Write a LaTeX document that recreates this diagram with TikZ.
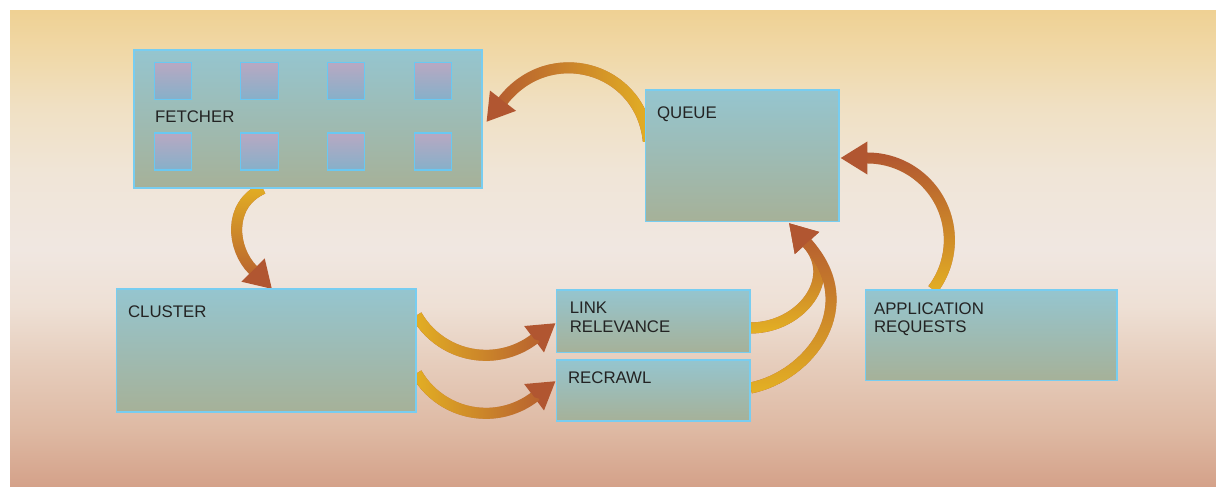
\documentclass[tikz,border=0pt]{standalone}
\usepackage{fontspec}
\setmainfont{Liberation Sans}
\usetikzlibrary{arrows.meta,fadings}
\definecolor{bgA}{RGB}{212,161,137}
\definecolor{bgB}{RGB}{222,185,163}
\definecolor{bgC}{RGB}{230,205,188}
\definecolor{bgD}{RGB}{238,224,213}
\definecolor{bgE}{RGB}{240,231,225}
\definecolor{bgF}{RGB}{240,229,215}
\definecolor{bgG}{RGB}{240,224,195}
\definecolor{bgH}{RGB}{240,217,170}
\definecolor{bgI}{RGB}{239,209,148}
\definecolor{gold}{RGB}{228,177,36}
\definecolor{rust}{RGB}{177,86,49}
\definecolor{boxT}{RGB}{149,197,207}
\definecolor{boxB}{RGB}{166,177,152}
\definecolor{boxLine}{RGB}{120,205,240}
\definecolor{sqT}{RGB}{184,168,194}
\definecolor{sqB}{RGB}{134,176,201}
\definecolor{sqLine}{RGB}{105,200,242}
\definecolor{txt}{RGB}{35,35,35}
\pgfdeclareverticalshading{bgshade}{100bp}{color(0bp)=(bgA); color(25bp)=(bgA); color(31bp)=(bgB); color(38bp)=(bgC); color(44bp)=(bgD); color(50bp)=(bgE); color(58bp)=(bgF); color(65bp)=(bgG); color(70bp)=(bgH); color(75bp)=(bgI); color(100bp)=(bgI)}
\tikzfading[name=fadeR, left color=transparent!100, right color=transparent!0]
\tikzfading[name=fadeL, left color=transparent!0, right color=transparent!100]
\tikzfading[name=fadeT, top color=transparent!0, bottom color=transparent!100]
\tikzfading[name=fadeB, top color=transparent!100, bottom color=transparent!0]
\pgfdeclarelayer{back}
\pgfsetlayers{back,main}
\newcommand\garrow[2]{\draw[conn] #2; \draw[glow=#1] #2;}
\newcommand\twolines[3]{\vtop{\baselineskip=#3\hbox{#1}\hbox{#2}}}
\begin{document}
\begin{tikzpicture}[x=1pt,y=1pt,
  box/.style={draw=boxLine, line width=1.3pt, top color=boxT, bottom color=boxB, inner sep=0pt},
  sq/.style={draw=sqLine, line width=1.3pt, top color=sqT, bottom color=sqB, inner sep=0pt, minimum width=37.5pt, minimum height=37pt},
  lbl/.style={text=txt, inner sep=0pt, anchor=base west, font=\fontsize{16.8pt}{19pt}\selectfont},
  conn/.style={draw=rust, line width=11pt, -{Triangle[width=31pt,length=27pt]}},
  glow/.style={draw=gold, line width=11pt, shorten >=27pt, path fading=#1}]
\useasboundingbox (0,0) rectangle (1216,487);
% boxes
\node[box, minimum width=348pt, minimum height=138pt] (fetcher) at (308,368) {};
\node[box, minimum width=193.3pt, minimum height=131.7pt] (queue) at (742.35,331.15) {};
\node[box, minimum width=299.3pt, minimum height=123pt] (cluster) at (266.35,136.5) {};
\node[box, minimum width=193.3pt, minimum height=62.7pt] (link) at (653.35,165.65) {};
\node[box, minimum width=193.3pt, minimum height=61pt] (recrawl) at (653.35,96.5) {};
\node[box, minimum width=251.3pt, minimum height=90.7pt] (app) at (991.35,151.65) {};
% fetcher squares
\foreach \i/\x in {1/173,2/259.5,3/346,4/433}{
  \node[sq] (sa\i) at (\x,406) {};
  \node[sq] (sb\i) at (\x,335.5) {};
}
% labels
\node[lbl] (tfetcher) at ([xshift=21.5pt,yshift=-73pt]fetcher.north west) {FETCHER};
\node[lbl] (tqueue) at ([xshift=11.8pt,yshift=-29pt]queue.north west) {QUEUE};
\node[lbl] (tcluster) at ([xshift=11.8pt,yshift=-29pt]cluster.north west) {CLUSTER};
\node[lbl] (tlink) at ([xshift=13.5pt,yshift=-24pt]link.north west) {\twolines{LINK}{RELEVANCE}{19.3pt}};
\node[lbl] (trecrawl) at ([xshift=11.8pt,yshift=-24pt]recrawl.north west) {RECRAWL};
\node[lbl] (tapp) at ([xshift=8.8pt,yshift=-25pt]app.north west) {\twolines{APPLICATION}{REQUESTS}{17.7pt}};
% connector end points
\coordinate (b1) at (503,386.3);
\coordinate (b2) at (253,217);
\coordinate (b5) at (807,244);
\begin{pgfonlayer}{back}
\shade[shading=bgshade] (10,0) rectangle (1216,476);
% queue -> fetcher
\garrow{fadeR}{([xshift=3.3pt,yshift=-52pt]queue.north west) .. controls +(-7.5,75) and +(46.2,59.1) .. (b1) -- ++(-16.6,-21.3)}
% fetcher -> cluster
\garrow{fadeT}{([xshift=129.5pt]fetcher.south west) .. controls +(-35.5,-16) and +(-21.2,21.2) .. (b2) -- ++(19.1,-19.1)}
% cluster -> link relevance
\garrow{fadeL}{([yshift=-27pt]cluster.north east) arc[start angle=-150, end angle=-53, radius=80pt] -- ++(21.6,16.2)}
% cluster -> recrawl
\garrow{fadeL}{([yshift=-85pt]cluster.north east) arc[start angle=-150, end angle=-53, radius=80pt] -- ++(21.6,16.2)}
% link relevance -> queue
\garrow{fadeB}{([yshift=-6.6pt]link.east) .. controls +(50,0) and +(32.2,-35.5) .. (b5) -- ++(-18.1,20)}
% recrawl -> queue
\garrow{fadeB}{([yshift=2.5pt]recrawl.east) .. controls +(58.8,12) and +(57,-62.9) .. (b5) -- ++(-18.1,20)}
% application requests -> queue
\garrow{fadeB}{([xshift=67.8pt]app.north west) arc[start angle=-37, end angle=90, radius=82pt] -- ++(-27,0)}
\end{pgfonlayer}
\end{tikzpicture}
\end{document}
